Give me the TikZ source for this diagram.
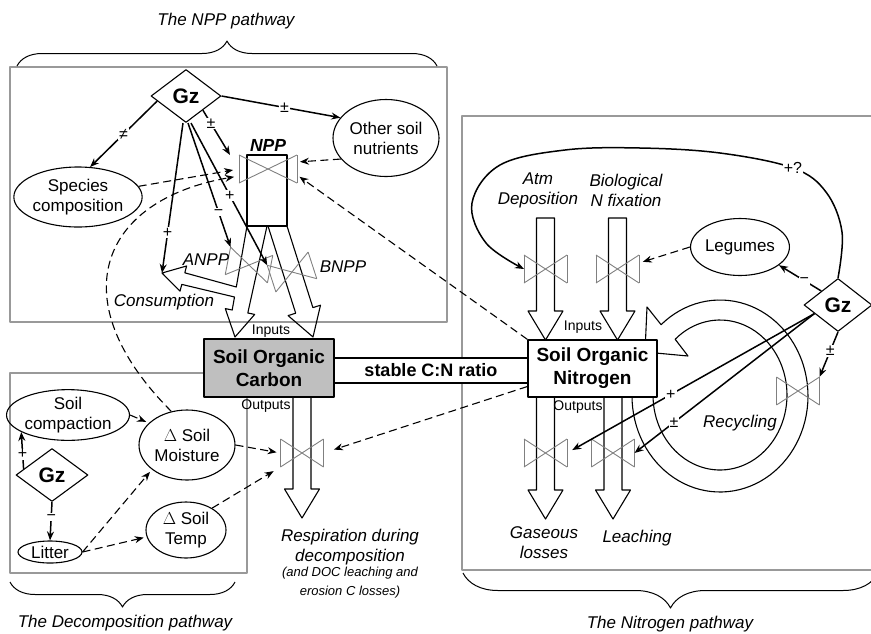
\documentclass[tikz,border=0pt]{standalone}
\usepackage{fontspec}
\setmainfont{Liberation Sans}
\usetikzlibrary{arrows.meta,shapes.geometric,decorations.pathreplacing}
\newcommand{\vflow}[5][]{\draw[flow] (#2-9,#3) -- (#2-9,#4) -- (#2-17.5,#4) -- (#2,#5) -- (#2+17.5,#4) -- (#2+9,#4) -- (#2+9,#3) #1;}

\begin{document}
\begin{tikzpicture}[x=1pt,y=-1pt, line join=round,
  every node/.style={font=\fontsize{17}{20}\selectfont, align=center},
  tag/.style={font=\fontsize{17}{20}\selectfont\itshape},
  io/.style={font=\fontsize{14}{15}\selectfont},
  pathbox/.style={draw=black!40, line width=1.1pt},
  bub/.style={draw, ellipse, line width=1.1pt, inner sep=0pt},
  gz/.style={draw, diamond, fill=white, line width=1.1pt, inner sep=0pt, minimum width=70pt, minimum height=53pt, font=\fontsize{21}{21}\selectfont\bfseries},
  pool/.style={draw, line width=1.3pt, inner sep=0pt, font=\fontsize{19}{23}\selectfont\bfseries},
  vln/.style={draw=black!50, line width=0.9pt},
  valve/.style={minimum width=43pt, minimum height=28pt, inner sep=0pt, outer sep=0pt,
    append after command={(\tikzlastnode.north west) edge[vln] (\tikzlastnode.south east)
      (\tikzlastnode.south east) edge[vln] (\tikzlastnode.north east)
      (\tikzlastnode.north east) edge[vln] (\tikzlastnode.south west)
      (\tikzlastnode.south west) edge[vln] (\tikzlastnode.north west)}},
  flow/.style={line width=1.1pt},
  eff/.style={line width=1.5pt, -{Stealth[length=9pt,width=7pt]}},
  ctl/.style={line width=1.1pt, dash pattern=on 8pt off 4.5pt, -{Stealth[length=9pt,width=7pt]}},
  sgn/.style={fill=white, inner sep=1pt, font=\fontsize{16}{16}\selectfont},
  brc/.style={decorate, decoration={brace, amplitude=#1}, line width=1pt}]
\useasboundingbox (0,0) rectangle (871,633);

% the three pathways
\draw[pathbox] (10,67) rectangle (447,322);
\draw[pathbox] (10,373) rectangle (247,573);
\draw[pathbox] (462,116) rectangle (880,570);
\draw[brc=25pt] (17,66) -- (437,66);
\draw[brc=25pt] (235,582) -- (10,582);
\draw[brc=35pt] (878,573) -- (463,573);
\node[tag] (t1) at (226,21) {The NPP pathway};
\node[tag] (t2) at (125,623) {The Decomposition pathway};
\node[tag] (t3) at (670,624) {The Nitrogen pathway};

% recycling loop
\draw[flow, fill=white] plot[domain=-132:195, samples=90, variable=\t] ({720+88*cos(\t)},{396+96*sin(\t)})
  -- plot[domain=195:-132, samples=90, variable=\t] ({720+67*cos(\t)},{395+75*sin(\t)})
  -- (688,356) -- (645,352) -- (647,307) -- cycle;
\node[tag] (rec) at (740,423) {Recycling};

% pools
\draw[flow, fill=white] (334,358) rectangle (528,383);
\node[font=\fontsize{18}{23}\selectfont\bfseries] (cn) at (431,370.5) {stable C:N ratio};
\node[pool, fill=black!25, minimum width=130pt, minimum height=58pt] (soc) at (269,368) {Soil Organic\\Carbon};
\node[pool, fill=white, minimum width=129pt, minimum height=57pt] (son) at (592.5,368.5) {Soil Organic\\Nitrogen};
\node[io] (ci) at (271,331) {Inputs};
\node[io] (co) at (266,406) {Outputs};
\node[io] (ni) at (583,327) {Inputs};
\node[io] (no) at (578,407) {Outputs};

% flows
\node[draw, line width=1.2pt, minimum width=40pt, minimum height=71pt, inner sep=0pt] (nppr) at (267,190.5) {};
\coordinate (cons) at (162,273);
\draw[flow] (267,226) -- (247.8,313) -- (254.7,314.4) -- (235,337) -- (225.3,308.6) -- (232.2,310) -- (234.5,297) -- (181.8,284.4) -- (180,291.2) -- (cons) -- (186.6,266) -- (184.8,272.8) -- (236.3,287) -- (247,226);
\draw[flow] (268,226) -- (295.7,313.2) -- (288.1,315.6) -- (313,337) -- (320.5,305.2) -- (312.9,307.6) -- (287,226);
\vflow{302}{397}{489}{518}
\vflow[-- cycle]{545.5}{218}{311}{340}
\vflow[-- cycle]{617.5}{218}{311}{340}
\vflow{545.5}{397}{490}{519}
\vflow{613}{397}{490}{519}

% valves
\node[valve, minimum width=58pt] (npv) at (268,169) {};
\node[valve, rotate=-11] (anpv) at (249,265) {};
\node[valve, rotate=18] (bnpv) at (292,272) {};
\node[valve] (resv) at (302,453) {};
\node[valve] (atmv) at (545.5,269) {};
\node[valve] (biov) at (617.5,269) {};
\node[valve] (gasv) at (545.5,453) {};
\node[valve] (leav) at (613,453) {};
\node[valve] (recv) at (798,391) {};

\node[font=\fontsize{17.5}{17}\selectfont\bfseries\itshape] (nppl) at (268,145) {NPP};
\node[tag] (anl) at (206,260) {ANPP};
\node[tag] (bnl) at (343,267) {BNPP};
\node[tag] (conl) at (164,302) {Consumption};
\node[tag] (resl) at (350,547) {Respiration during\\decomposition};
\node[font=\fontsize{13}{19}\selectfont\itshape] (resl2) at (350,583) {(and DOC leaching and\\erosion C losses)};
\node[tag] (atml) at (538,190) {Atm\\Deposition};
\node[tag] (biol) at (626,190) {Biological\\N fixation};
\node[tag] (gasl) at (544,543) {Gaseous\\losses};
\node[tag] (leal) at (637,538) {Leaching};

% drivers
\node[gz] (gz1) at (186,96) {Gz};
\node[gz, minimum width=68pt] (gz2) at (838,305) {Gz};
\node[gz, minimum width=72pt] (gz3) at (52,475) {Gz};
\node[bub, minimum width=120pt, minimum height=60pt] (spec) at (78,197) {Species\\composition};
\node[bub, minimum width=106pt, minimum height=77pt] (oth) at (386,138) {Other soil\\nutrients};
\node[bub, minimum width=116pt, minimum height=50pt] (comp) at (68,415) {Soil\\compaction};
\node[bub, minimum width=96pt, minimum height=70pt] (moist) at (187,445) {$\Delta$ Soil\\Moisture};
\node[bub, minimum width=80pt, minimum height=56pt] (temp) at (186,530) {$\Delta$ Soil\\Temp};
\node[bub, minimum width=64pt, minimum height=22pt] (lit) at (50,552) {Litter};
\node[bub, minimum width=94pt, minimum height=57pt] (leg) at (740,247) {Legumes};

% effects of grazing
\draw[eff] (gz1.190) -- node[sgn]{≠} (spec.68);
\draw[eff] (gz1.east) -- node[sgn, pos=0.53]{±} (oth.156);
\draw[eff] (gz1.-40) -- node[sgn, pos=0.3]{±} ([xshift=-9pt]npv.north west);
\draw[eff] ([xshift=-3pt]gz1.south) -- node[sgn, pos=0.73]{+} (cons);
\draw[eff] ([xshift=2pt]gz1.south) -- node[sgn, pos=0.72]{−} (anpv.north west);
\draw[eff] ([xshift=5pt]gz1.south) -- node[sgn, pos=0.51]{+} (bnpv.north west);
\draw[eff] (gz3.168) -- node[sgn, pos=0.4]{+} (comp.200);
\draw[eff] (gz3.south) -- node[sgn, pos=0.4]{−} (lit.north);
\draw[eff] (gz2.140) -- node[sgn, pos=0.4]{−} (leg.-25);
\draw[eff] (gz2.south) -- node[sgn, pos=0.42]{±} (recv.north east);
\draw[eff, shorten >=6pt] (gz2.200) -- node[sgn, pos=0.58]{+} (gasv.east);
\draw[eff] (gz2.200) -- node[sgn, pos=0.78]{±} (leav.east);
\draw[eff] plot[smooth, tension=0.6] coordinates {(gz2.north) (842,232) (826,192) (793,168) (720,153) (640,148) (565,150) (500,165) (472,203) (486,243) (atmv.west)};
\node[sgn] (q) at (793,168) {+?};

% controls
\draw[ctl, shorten >=6pt] (spec.10) -- (npv.west);
\draw[ctl, shorten >=5pt] (moist.115) .. controls (60,300) and (100,200) .. ([yshift=-7pt]npv.west);
\draw[ctl, shorten >=3pt] (oth.205) -- ([yshift=7pt]npv.east);
\draw[ctl, shorten >=3pt] (son.north west) -- ([yshift=-6pt]npv.east);
\draw[ctl, shorten >=3pt] (comp.east) -- (moist.150);
\draw[ctl, shorten >=3pt] (lit.east) -- (moist.215);
\draw[ctl, shorten >=3pt] (lit.east) -- (temp.190);
\draw[ctl, shorten >=4pt] (moist.east) -- (resv.west);
\draw[ctl, shorten >=8pt] (temp.40) -- (resv.south west);
\draw[ctl, shorten >=11pt] ([yshift=-18pt]son.west) -- (resv.east);
\draw[ctl, shorten >=4pt] (leg.west) -- ([yshift=6pt]biov.east);
\end{tikzpicture}
\end{document}
